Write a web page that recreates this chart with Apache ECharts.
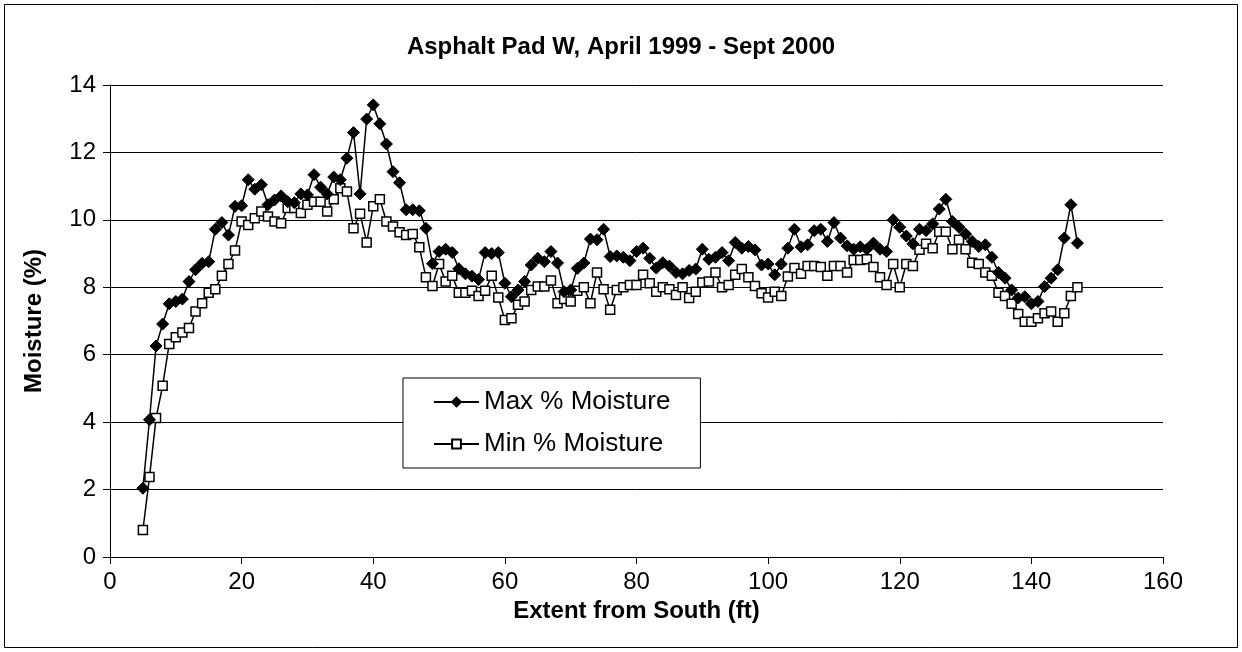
<!DOCTYPE html>
<html>
<head>
<meta charset="utf-8">
<title>Asphalt Pad W, April 1999 - Sept 2000</title>
<script src="https://cdn.jsdelivr.net/npm/echarts@6/dist/echarts.min.js"></script>
<style>
html, body { margin: 0; padding: 0; background: #fff; }
#moisture-container { width: 1242px; height: 652px; }
</style>
</head>
<body>
<div id="moisture-container"></div>
<script>
// distance from south edge (ft)
const extent = [
  5, 6, 7, 8, 9, 10, 11, 12, 13, 14,
  15, 16, 17, 18, 19, 20, 21, 22, 23, 24,
  25, 26, 27, 28, 29, 30, 31, 32, 33, 34,
  35, 36, 37, 38, 39, 40, 41, 42, 43, 44,
  45, 46, 47, 48, 49, 50, 51, 52, 53, 54,
  55, 56, 57, 58, 59, 60, 61, 62, 63, 64,
  65, 66, 67, 68, 69, 70, 71, 72, 73, 74,
  75, 76, 77, 78, 79, 80, 81, 82, 83, 84,
  85, 86, 87, 88, 89, 90, 91, 92, 93, 94,
  95, 96, 97, 98, 99, 100, 101, 102, 103, 104,
  105, 106, 107, 108, 109, 110, 111, 112, 113, 114,
  115, 116, 117, 118, 119, 120, 121, 122, 123, 124,
  125, 126, 127, 128, 129, 130, 131, 132, 133, 134,
  135, 136, 137, 138, 139, 140, 141, 142, 143, 144,
  145, 146, 147
]

const maxMoisture = [
  2.04, 4.07, 6.26, 6.91, 7.51, 7.58, 7.65, 8.17, 8.52, 8.71,
  8.76, 9.72, 9.92, 9.55, 10.4, 10.42, 11.19, 10.91, 11.04, 10.45,
  10.59, 10.71, 10.54, 10.51, 10.77, 10.74, 11.34, 10.97, 10.77, 11.27,
  11.19, 11.83, 12.59, 10.77, 12.99, 13.41, 12.85, 12.25, 11.43, 11.1,
  10.3, 10.3, 10.27, 9.75, 8.7, 9.06, 9.13, 9.03, 8.55, 8.4,
  8.33, 8.23, 9.03, 9.0, 9.03, 8.12, 7.72, 7.92, 8.17, 8.66,
  8.86, 8.76, 9.06, 8.72, 7.87, 7.92, 8.56, 8.72, 9.43, 9.41,
  9.72, 8.91, 8.93, 8.89, 8.79, 9.06, 9.16, 8.86, 8.57, 8.73,
  8.63, 8.44, 8.4, 8.5, 8.54, 9.13, 8.83, 8.89, 9.03, 8.79,
  9.33, 9.16, 9.21, 9.11, 8.66, 8.69, 8.37, 8.69, 9.16, 9.72,
  9.2, 9.26, 9.68, 9.72, 9.36, 9.92, 9.46, 9.23, 9.13, 9.2,
  9.13, 9.31, 9.13, 9.06, 10.0, 9.78, 9.52, 9.29, 9.72, 9.68,
  9.88, 10.32, 10.61, 9.95, 9.78, 9.58, 9.36, 9.21, 9.26, 8.89,
  8.44, 8.27, 7.92, 7.68, 7.72, 7.51, 7.58, 8.02, 8.27, 8.52,
  9.46, 10.45, 9.31
]

const minMoisture = [
  0.8, 2.37, 4.12, 5.08, 6.32, 6.52, 6.66, 6.79, 7.28, 7.53,
  7.84, 7.94, 8.34, 8.69, 9.09, 9.95, 9.85, 10.05, 10.25, 10.1,
  9.95, 9.9, 10.35, 10.35, 10.2, 10.45, 10.54, 10.54, 10.25, 10.61,
  10.94, 10.84, 9.75, 10.18, 9.33, 10.4, 10.61, 9.95, 9.8, 9.63,
  9.55, 9.58, 9.19, 8.3, 8.04, 8.69, 8.17, 8.34, 7.84, 7.84,
  7.9, 7.74, 7.9, 8.34, 7.7, 7.03, 7.08, 7.48, 7.58, 7.92,
  8.02, 8.02, 8.2, 7.53, 7.65, 7.58, 7.9, 8.0, 7.53, 8.44,
  7.94, 7.33, 7.92, 8.0, 8.07, 8.07, 8.37, 8.12, 7.87, 8.0,
  7.94, 7.77, 8.0, 7.68, 7.87, 8.14, 8.17, 8.44, 8.0, 8.07,
  8.37, 8.54, 8.3, 8.04, 7.82, 7.7, 7.87, 7.74, 8.32, 8.57,
  8.4, 8.63, 8.63, 8.6, 8.34, 8.63, 8.63, 8.44, 8.81, 8.81,
  8.83, 8.6, 8.3, 8.07, 8.69, 8.0, 8.69, 8.63, 9.11, 9.29,
  9.16, 9.65, 9.65, 9.13, 9.41, 9.13, 8.73, 8.69, 8.44, 8.34,
  7.84, 7.74, 7.51, 7.21, 6.98, 6.98, 7.08, 7.23, 7.28, 6.98,
  7.23, 7.74, 8.0
]

const font = '"Liberation Sans", Arial, sans-serif'

function drawChart () {
  const myChart = echarts.init(document.getElementById('moisture-container'))
  const option = {
    animation: false,
    backgroundColor: '#fff',
    textStyle: { fontFamily: font, color: '#000' },
    title: {
      text: 'Asphalt Pad W, April 1999 - Sept 2000',
      left: 'center',
      top: 30,
      textStyle: { fontFamily: font, fontSize: 24, fontWeight: 'bold', color: '#000' }
    },
    // chart frame
    graphic: [{
      type: 'rect',
      shape: { x: 4.5, y: 4.5, width: 1233, height: 643 },
      style: { fill: 'none', stroke: '#000', lineWidth: 1 },
      silent: true
    }],
    legend: {
      orient: 'vertical',
      left: 403,
      top: 378,
      padding: [11, 30, 11, 30],
      itemGap: 16,
      itemWidth: 45,
      itemHeight: 11,
      backgroundColor: '#fff',
      borderColor: '#000',
      borderWidth: 1,
      textStyle: { fontFamily: font, fontSize: 26, color: '#000' },
      data: ['Max % Moisture', 'Min % Moisture']
    },
    grid: {
      left: 110,
      right: 79,
      top: 85,
      bottom: 95
    },
    xAxis: {
      type: 'value',
      min: 0,
      max: 160,
      interval: 20,
      name: 'Extent from South (ft)',
      nameLocation: 'middle',
      nameGap: 38,
      nameTextStyle: { fontFamily: font, fontSize: 24, fontWeight: 'bold', color: '#000' },
      axisLine: { lineStyle: { color: '#000', width: 1 } },
      axisTick: { inside: false, length: 7, lineStyle: { color: '#000' } },
      axisLabel: { fontFamily: font, fontSize: 24, color: '#000', margin: 13 },
      splitLine: { show: false }
    },
    yAxis: {
      type: 'value',
      min: 0,
      max: 14,
      interval: 2,
      name: 'Moisture (%)',
      nameLocation: 'middle',
      nameGap: 64,
      nameTextStyle: { fontFamily: font, fontSize: 24, fontWeight: 'bold', color: '#000' },
      axisLine: { show: true, lineStyle: { color: '#000', width: 1 } },
      axisTick: { show: true, length: 7, lineStyle: { color: '#000' } },
      axisLabel: { fontFamily: font, fontSize: 24, color: '#000', margin: 14 },
      splitLine: { show: true, lineStyle: { color: '#000', width: 1 } }
    },
    series: [
      {
        name: 'Max % Moisture',
        type: 'line',
        data: extent.map((x, i) => [x, maxMoisture[i]]),
        symbol: 'diamond',
        symbolSize: 12,
        lineStyle: { color: '#000', width: 1.5 },
        itemStyle: { color: '#000', borderColor: '#000', borderWidth: 1 },
        z: 3
      },
      {
        name: 'Min % Moisture',
        type: 'line',
        data: extent.map((x, i) => [x, minMoisture[i]]),
        symbol: 'rect',
        symbolSize: 9,
        lineStyle: { color: '#000', width: 1.5 },
        itemStyle: { color: '#fff', borderColor: '#000', borderWidth: 1.5 },
        z: 2
      }
    ]
  }
  myChart.setOption(option)
}

drawChart()
</script>
</body>
</html>
